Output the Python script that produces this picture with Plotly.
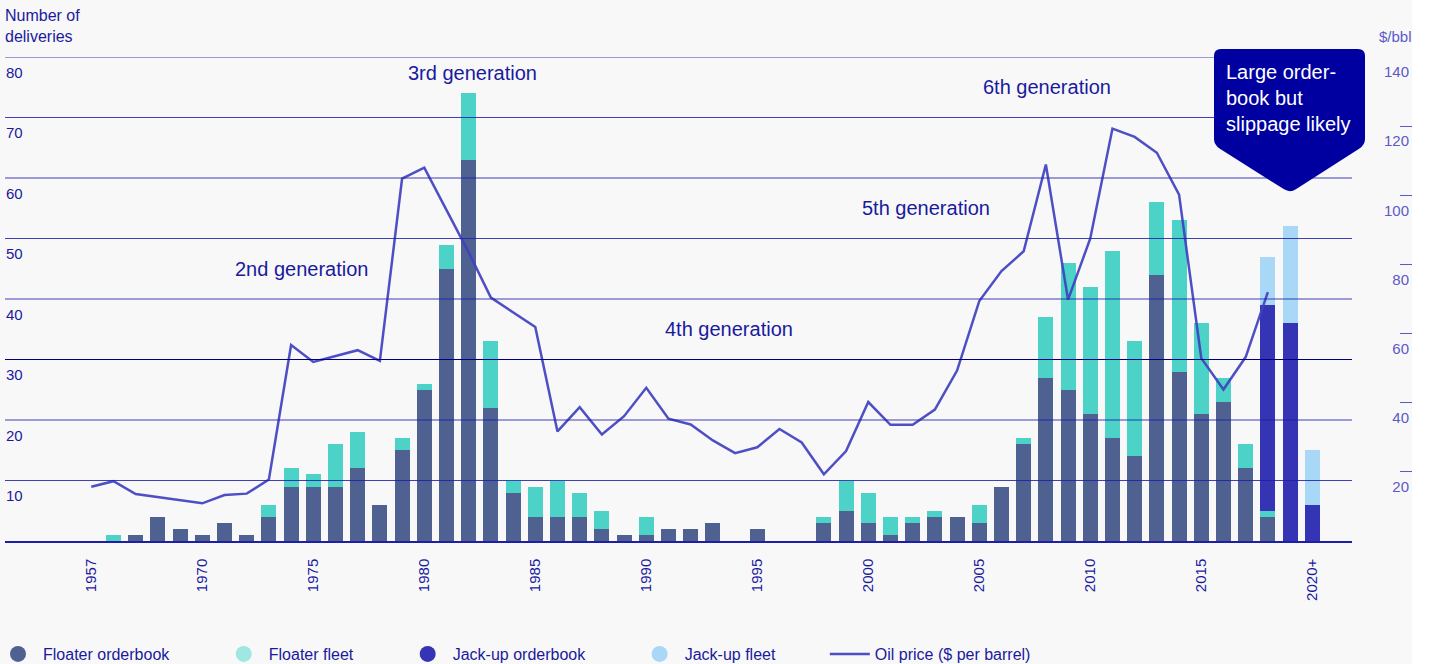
import plotly.graph_objects as go

# ---------------- data ----------------
categories = ["1957"] + [str(y) for y in range(1966, 2020)] + ["2020+"]

floater_orderbook = [0, 0, 1, 4, 2, 1, 3, 1, 4, 9,
                     9, 9, 12, 6, 15, 25, 45, 63, 22, 8,
                     4, 4, 4, 2, 1, 1, 2, 2, 3, 0,
                     2, 0, 0, 3, 5, 3, 1, 3, 4, 4,
                     3, 9, 16, 27, 25, 21, 17, 14, 44, 28,
                     21, 23, 12, 4, 0, 0]
floater_fleet = [0, 1, 0, 0, 0, 0, 0, 0, 2, 3,
                 2, 7, 6, 0, 2, 1, 4, 11, 11, 2,
                 5, 6, 4, 3, 0, 3, 0, 0, 0, 0,
                 0, 0, 0, 1, 5, 5, 3, 1, 1, 0,
                 3, 0, 1, 10, 21, 21, 31, 19, 12, 25,
                 15, 4, 4, 1, 0, 0]
jackup_orderbook = [0] * 53 + [34, 36, 6]
jackup_fleet = [0] * 53 + [8, 16, 9]

oil_years = categories[:54]
oil_price = [15.7, 17.3, 13.6, 12.7, 11.8, 10.9, 13.3, 13.7, 17.8, 56.7,
             51.8, 53.5, 55.2, 52.1, 104.8, 108.0, 95.6, 83.5, 70.4, 66.1,
             61.9, 31.7, 38.7, 30.8, 36.1, 44.3, 35.4, 33.7, 29.1, 25.4,
             27.1, 32.4, 28.5, 19.3, 26.0, 40.2, 33.6, 33.6, 38.0, 49.3,
             69.4, 78.1, 83.8, 108.9, 69.8, 87.5, 119.3, 116.9, 112.3, 100.2,
             52.9, 43.8, 53.2, 72.0]

x_tick_labels = ["1957", "1970", "1975", "1980", "1985", "1990", "1995",
                 "2000", "2005", "2010", "2015", "2020+"]
left_ticks = [0, 10, 20, 30, 40, 50, 60, 70, 80]
right_ticks = [0, 20, 40, 60, 80, 100, 120, 140]

generations = ["2nd generation", "3rd generation", "4th generation",
               "5th generation", "6th generation"]

# ---------------- styling ----------------
W, H = 1430, 664
ML, MR, MT, MB = 5, 18, 57, 123
PW = W - ML - MR
PH = H - MT - MB


def px(xp):
    return (xp - ML) / PW


def py(yp):
    return (H - MB - yp) / PH


X_END = px(1352)
FONT = "Liberation Sans, Arial, sans-serif"
DARK = "#1a1a9e"
LIGHT = "#5a5ac8"
BG = "#f8f8f8"
C_FO = "#4e6191"
C_FF = "#4dd2c8"
C_JO = "#3434b4"
C_JF = "#a8d8f5"
C_OIL = "rgba(64,64,192,0.92)"

fig = go.Figure()
for name, vals, col in [("Floater orderbook", floater_orderbook, C_FO),
                        ("Floater fleet", floater_fleet, C_FF),
                        ("Jack-up orderbook", jackup_orderbook, C_JO),
                        ("Jack-up fleet", jackup_fleet, C_JF)]:
    fig.add_trace(go.Bar(x=categories, y=vals, name=name, marker_color=col,
                         marker_line_width=0, showlegend=False, hoverinfo="skip"))

pad = "\u00a0" * 10
for name, col in [("Floater orderbook", C_FO), ("Floater fleet", "#9fe8e2"),
                  ("Jack-up orderbook", C_JO), ("Jack-up fleet", C_JF)]:
    fig.add_trace(go.Scatter(x=[None], y=[None], mode="markers", name=name + pad,
                             marker=dict(symbol="circle", size=20, color=col)))

fig.add_trace(go.Scatter(x=oil_years, y=oil_price, yaxis="y2", mode="lines",
                         name="Oil price ($ per barrel)",
                         line=dict(color=C_OIL, width=2.5)))

shapes = [dict(type="rect", xref="paper", yref="paper", x0=px(0), x1=px(1412),
               y0=py(H), y1=py(0), fillcolor=BG, line_width=0, layer="below")]
for v in left_ticks[1:]:
    shapes.append(dict(type="line", xref="paper", yref="y", x0=0, x1=X_END,
                       y0=v, y1=v, layer="above",
                       line=dict(color="#00007a" if v == 30 else "rgba(30,30,170,0.85)", width=1.2)))

# callout (pentagon with rounded corners), pixel geometry -> paper
L, R, T, S = 1214, 1365, 49, 145
ax, ay = 1290, 193
pts = [("M", L, T + 7), ("Q", L, T, L + 7, T), ("L", R - 7, T), ("Q", R, T, R, T + 7),
       ("L", R, S - 6), ("Q", R, S, R - 5.9, S + 3.8), ("L", ax + 5.9, ay - 3.8),
       ("Q", ax, ay, ax - 5.9, ay - 3.7), ("L", L + 5.9, S + 3.7), ("Q", L, S, L, S - 6)]
path = ""
for p in pts:
    cmd, coords = p[0], p[1:]
    xy = []
    for i in range(0, len(coords), 2):
        xy.append(f"{px(coords[i]):.5f},{py(coords[i + 1]):.5f}")
    path += cmd + " " + " ".join(xy) + " "
path += "Z"
shapes.append(dict(type="path", xref="paper", yref="paper", path=path,
                   fillcolor="#0000a0", line_width=0, layer="above"))

gen_pos = [(301, 269), (472.5, 73), (729, 329), (926, 208), (1047, 87)]
annotations = []
for text, (gx, gy) in zip(generations, gen_pos):
    annotations.append(dict(text=text, xref="paper", yref="paper", x=px(gx), y=py(gy),
                            xanchor="center", yanchor="middle", showarrow=False,
                            font=dict(family=FONT, size=20, color=DARK)))
annotations.append(dict(text="Number of<br>deliveries", xref="paper", yref="paper",
                        x=px(3), y=py(5), xanchor="left", yanchor="top", align="left",
                        showarrow=False, font=dict(family=FONT, size=16, color=DARK)))
annotations.append(dict(text="$/bbl", xref="paper", yref="paper",
                        x=px(1414), y=py(37), xanchor="right", yanchor="middle",
                        showarrow=False, font=dict(family=FONT, size=15, color=LIGHT)))
annotations.append(dict(text="Large order-<br>book but<br>slippage likely", xref="paper",
                        yref="paper", x=px(1224), y=py(97.5), xanchor="left",
                        yanchor="middle", align="left", showarrow=False,
                        font=dict(family=FONT, size=20, color="white")))

fig.update_layout(
    width=W, height=H,
    margin=dict(l=ML, r=MR, t=MT, b=MB, autoexpand=False),
    paper_bgcolor="white", plot_bgcolor=BG,
    barmode="stack", bargap=0.32,
    font=dict(family=FONT, color=DARK),
    shapes=shapes, annotations=annotations,
    legend=dict(orientation="h", x=px(-7), xanchor="left", y=py(654), yanchor="middle",
                font=dict(family=FONT, size=16, color=DARK), itemwidth=40,
                itemsizing="trace", bgcolor="rgba(0,0,0,0)", traceorder="normal"),
    xaxis=dict(type="category", categoryorder="array", categoryarray=categories,
               range=[-3.887, 56.79], domain=[0, X_END],
               tickmode="array", tickvals=x_tick_labels, ticktext=x_tick_labels,
               tickangle=-90, tickfont=dict(family=FONT, size=15, color=DARK),
               showgrid=False, showline=True, linecolor="#1e1eaa", linewidth=1.5,
               ticks="", ticklabelstandoff=10, zeroline=False),
    yaxis=dict(range=[0, 80], tickmode="array", tickvals=left_ticks,
               ticktext=[""] + [str(v) for v in left_ticks[1:]],
               ticklabelposition="inside bottom", ticklabelshift=5, ticklabelstandoff=-2,
               showgrid=False, zeroline=False,
               ticks="", tickfont=dict(family=FONT, size=15, color=DARK)),
    yaxis2=dict(range=[0, 140], overlaying="y", side="right", anchor="free", position=1.0,
                tickmode="array", tickvals=right_ticks,
                ticktext=[""] + [str(v) for v in right_ticks[1:]],
                ticks="inside", ticklen=12, tickcolor=LIGHT, tickwidth=1,
                ticklabelposition="inside bottom", ticklabelshift=4,
                showgrid=False, zeroline=False,
                showline=False, tickfont=dict(family=FONT, size=15, color=LIGHT)),
)

fig.write_html("out.html", config={"displayModeBar": False},
               post_script="document.body.style.margin='0px';")
